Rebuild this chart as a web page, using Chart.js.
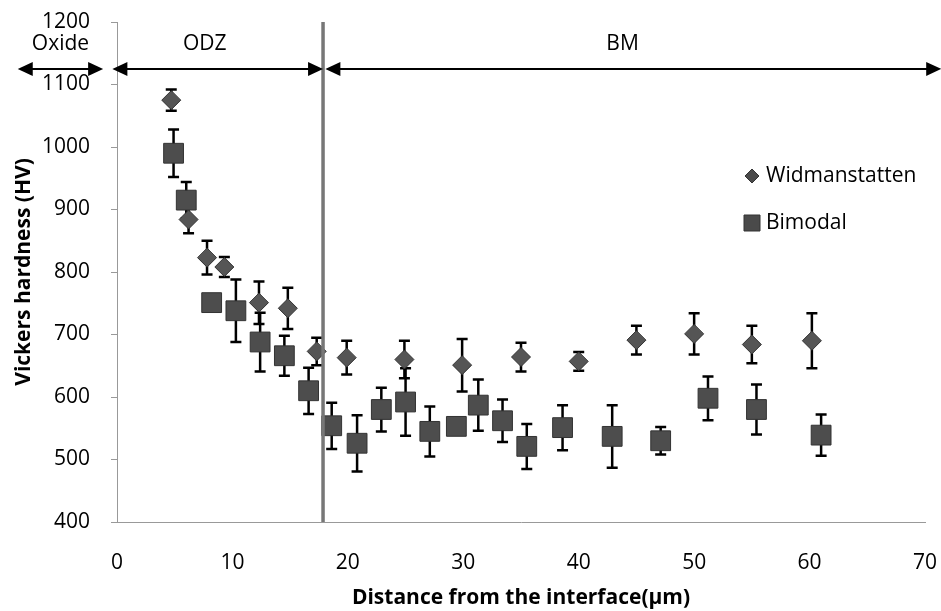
<!DOCTYPE html>
<html>
<head>
<meta charset="utf-8">
<script src="https://cdn.jsdelivr.net/npm/chart.js@4.4.0/dist/chart.umd.min.js"></script>
<style>
  html, body { margin: 0; padding: 0; background: #fff; }
</style>
</head>
<body>
<canvas id="hardnessChart" width="941" height="611"></canvas>
<script>
// Widmanstatten series (distance in um, hardness HV, +/- error)
const widX   = [4.7, 6.2, 7.8, 9.3, 12.3, 14.8, 17.3, 19.9, 24.9, 29.9, 35.0, 40.0, 45.0, 50.0, 55.0, 60.2];
const widHV  = [1075, 884, 823, 808, 751, 742, 673, 663, 660, 651, 664, 657, 691, 701, 684, 690];
const widErr = [17, 22, 27, 16, 34, 33, 22, 27, 30, 42, 23, 15, 23, 33, 30, 44];

// Bimodal series
const bimX   = [4.9, 6.0, 8.2, 10.3, 12.4, 14.5, 16.6, 18.6, 20.8, 22.9, 25.0, 27.1, 29.4, 31.3, 33.4, 35.5, 38.6, 42.9, 47.1, 51.2, 55.4, 61.0];
const bimHV  = [990, 915, 751, 738, 688, 666, 610, 554, 526, 580, 592, 545, 553, 587, 562, 521, 551, 537, 530, 598, 580, 539];
const bimErr = [38, 29, 4, 50, 47, 32, 37, 37, 45, 35, 54, 40, 8, 41, 34, 36, 36, 50, 22, 35, 40, 33];

// zones along the top (in um) and the oxide / metal interface
const zoneLabels = ['Oxide', 'ODZ', 'BM'];
const zoneLabelX = [-4.9, 7.6, 43.8];
const zoneFrom   = [-8.6, -0.4, 18.05];
const zoneTo     = [-1.2, 17.85, 71.4];
const interfaceX = 17.85;
const zoneArrowHV = 1125;

const xMin = 0, xMax = 70, xStep = 10;
const yMin = 400, yMax = 1200, yStep = 100;

const toPoints = (xs, ys) => xs.map((v, i) => ({ x: v, y: ys[i] }));

// vertical error bars drawn from each dataset's errors
const errorBars = {
  id: 'errorBars',
  beforeDatasetsDraw(chart) {
    const { ctx, scales: { x, y } } = chart;
    ctx.save();
    ctx.strokeStyle = '#000';
    ctx.lineWidth = 2.5;
    chart.data.datasets.forEach(ds => {
      ds.errors.forEach((e, j) => {
        const p = ds.data[j];
        const px = x.getPixelForValue(p.x);
        const top = y.getPixelForValue(p.y + e);
        const bot = y.getPixelForValue(p.y - e);
        ctx.beginPath();
        ctx.moveTo(px, top); ctx.lineTo(px, bot);
        ctx.moveTo(px - 5.5, top); ctx.lineTo(px + 5.5, top);
        ctx.moveTo(px - 5.5, bot); ctx.lineTo(px + 5.5, bot);
        ctx.stroke();
      });
    });
    ctx.restore();
  }
};

function arrowHead(ctx, x, y, dir) {
  ctx.beginPath();
  ctx.moveTo(x, y);
  ctx.lineTo(x - dir * 15, y - 7);
  ctx.lineTo(x - dir * 15, y + 7);
  ctx.closePath();
  ctx.fill();
}

// interface line, zone arrows and labels, legend
const zones = {
  id: 'zones',
  afterDraw(chart) {
    const { ctx, chartArea, scales: { x, y } } = chart;
    ctx.save();
    const lx = x.getPixelForValue(interfaceX);
    ctx.strokeStyle = '#777';
    ctx.lineWidth = 3.5;
    ctx.beginPath();
    ctx.moveTo(lx, chartArea.top);
    ctx.lineTo(lx, chartArea.bottom);
    ctx.stroke();

    const ay = y.getPixelForValue(zoneArrowHV);
    ctx.strokeStyle = '#000';
    ctx.fillStyle = '#000';
    ctx.lineWidth = 2;
    ctx.font = '21px "Open Sans"';
    ctx.textAlign = 'center';
    ctx.textBaseline = 'middle';
    zoneLabels.forEach((lab, i) => {
      const a = x.getPixelForValue(zoneFrom[i]);
      const b = x.getPixelForValue(zoneTo[i]);
      ctx.beginPath();
      ctx.moveTo(a + 4, ay);
      ctx.lineTo(b - 4, ay);
      ctx.stroke();
      arrowHead(ctx, a, ay, -1);
      arrowHead(ctx, b, ay, 1);
      ctx.fillText(lab, x.getPixelForValue(zoneLabelX[i]), ay - 25);
    });

    // legend
    const lx0 = chartArea.right - 173;
    chart.data.datasets.forEach((ds, i) => {
      const ty = 176 + i * 47;
      ctx.fillStyle = '#4a4a4a';
      ctx.strokeStyle = '#333';
      ctx.lineWidth = 1;
      ctx.beginPath();
      if (ds.pointStyle === 'rectRot') {
        ctx.moveTo(lx0, ty - 7); ctx.lineTo(lx0 + 7, ty);
        ctx.lineTo(lx0, ty + 7); ctx.lineTo(lx0 - 7, ty);
      } else {
        ctx.rect(lx0 - 8, ty - 8, 16, 16);
      }
      ctx.closePath();
      ctx.fill();
      ctx.stroke();
      ctx.fillStyle = '#000';
      ctx.textAlign = 'left';
      ctx.fillText(ds.label, lx0 + 14, ty);
    });
    ctx.restore();
  }
};

const ctx = document.getElementById('hardnessChart').getContext('2d');

const hardnessChart = new Chart(ctx, {
  type: 'scatter',
  data: {
    datasets: [
      {
        label: 'Widmanstatten',
        data: toPoints(widX, widHV),
        errors: widErr,
        pointStyle: 'rectRot',
        pointRadius: 9.5,
        backgroundColor: '#555',
        borderColor: '#333',
        borderWidth: 1
      },
      {
        label: 'Bimodal',
        data: toPoints(bimX, bimHV),
        errors: bimErr,
        pointStyle: 'rect',
        pointRadius: 14,
        backgroundColor: '#4d4d4d',
        borderColor: '#333',
        borderWidth: 1
      }
    ]
  },
  options: {
    responsive: false,
    animation: false,
    devicePixelRatio: 1,
    layout: { padding: { top: 22, right: 16 } },
    plugins: {
      legend: { display: false },
      tooltip: { enabled: false }
    },
    scales: {
      x: {
        type: 'linear',
        min: xMin, max: xMax,
        afterFit: s => { s.height = 89; s.paddingLeft = 0; s.paddingRight = 0; },
        ticks: { stepSize: xStep, color: '#000', padding: 28, font: { family: 'Open Sans', size: 21 } },
        grid: { drawOnChartArea: false, drawTicks: false },
        border: { color: '#999', width: 1, dash: [12, 4] },
        title: {
          display: true,
          text: 'Distance from the interface(\u03bcm)',
          color: '#000',
          padding: { bottom: 0 },
          font: { family: 'Open Sans', size: 21, weight: 'bold' }
        }
      },
      y: {
        min: yMin, max: yMax,
        afterFit: s => { s.width = 117; s.paddingTop = 0; s.paddingBottom = 0; },
        ticks: {
          stepSize: yStep, color: '#000', padding: 21,
          font: { family: 'Open Sans', size: 21 },
          callback: v => String(v)
        },
        grid: { drawOnChartArea: false, drawTicks: true, tickLength: 6, color: '#999' },
        border: { color: '#999', width: 1, dash: [10, 3] },
        title: {
          display: true,
          text: 'Vickers hardness (HV)',
          color: '#000',
          padding: { top: 11 },
          font: { family: 'Open Sans', size: 21, weight: 'bold' }
        }
      }
    }
  },
  plugins: [errorBars, zones]
});
</script>
</body>
</html>
